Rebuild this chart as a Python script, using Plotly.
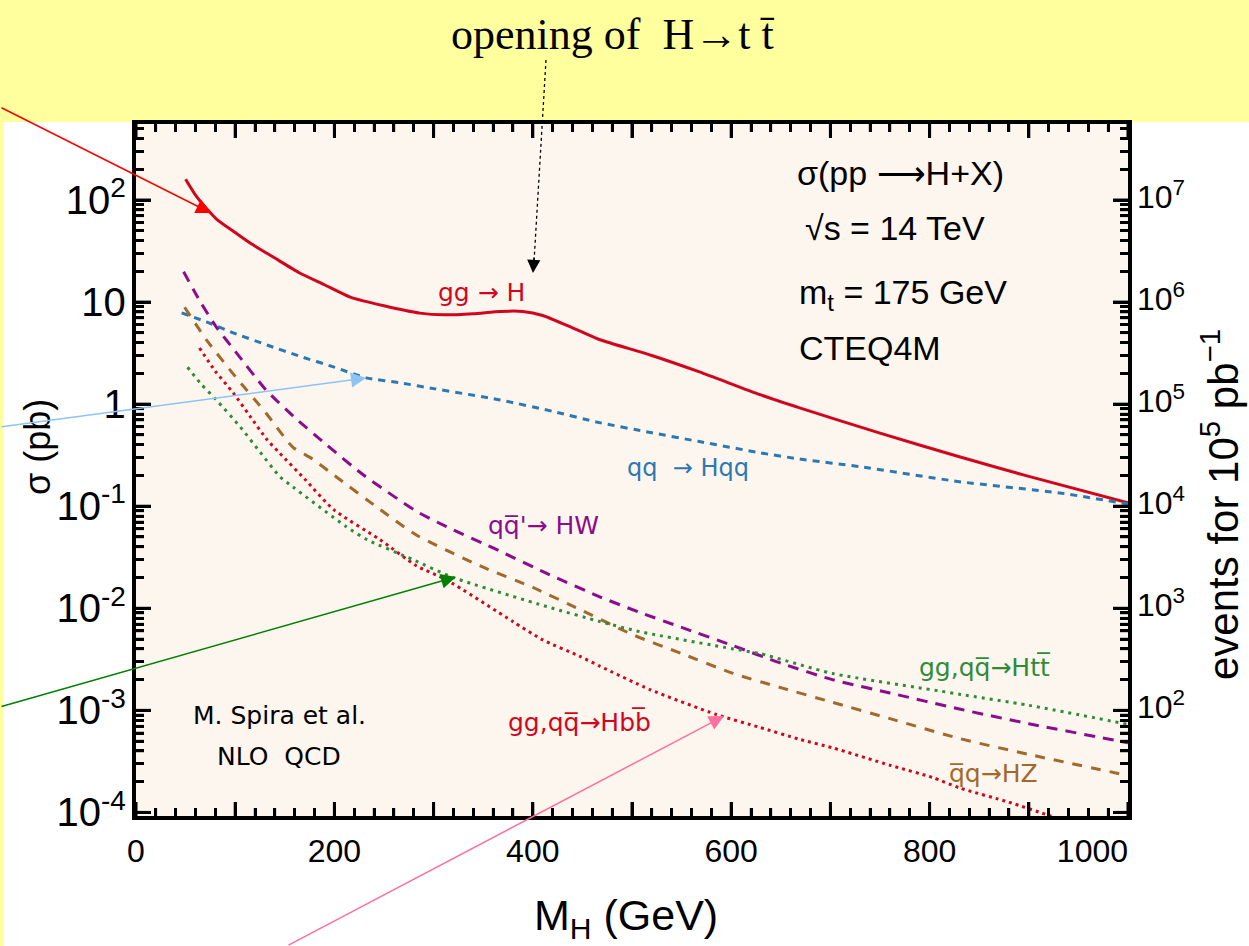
import math
import plotly.graph_objects as go

# ---------------- data ----------------
MH_GGH = [50, 60, 75, 82, 100, 115, 140, 165, 190, 216, 250, 286, 310, 340, 367, 390, 410, 440, 467, 520, 568, 629, 669, 750, 830, 900, 1000]
SIG_GGH = [160, 112, 75, 64, 48, 38, 27, 19.3, 14.8, 11.2, 9.2, 7.8, 7.5, 7.7, 8.1, 8.1, 7.4, 5.6, 4.3, 3.0, 2.07, 1.24, 0.92, 0.52, 0.305, 0.196, 0.108]

MH_HQQ = [46, 71, 98, 132, 165, 199, 232, 266, 300, 367, 420, 467, 520, 568, 629, 669, 729, 830, 931, 1000]
SIG_HQQ = [7.85, 6.4, 5.0, 3.8, 2.95, 2.32, 1.81, 1.62, 1.42, 1.10, 0.85, 0.66, 0.525, 0.43, 0.334, 0.29, 0.245, 0.174, 0.135, 0.105]

MH_HW = [48, 65, 81, 100, 131, 160, 192, 230, 283, 313, 360, 414, 468, 508, 550, 602, 650, 702, 760, 830, 900, 991, 1000]
SIG_HW = [19.8, 10.0, 5.7, 3.3, 1.38, 0.74, 0.40, 0.20, 0.089, 0.063, 0.039, 0.022, 0.0129, 0.0091, 0.0065, 0.0043, 0.0029, 0.0020, 0.00148, 0.00103, 0.00074, 0.00050, 0.00048]

MH_HZ = [49, 71, 100, 131, 158, 178, 200, 246, 283, 347, 400, 447, 501, 550, 602, 650, 702, 760, 830, 900, 1000]
SIG_HZ = [8.9, 4.27, 1.87, 0.82, 0.38, 0.29, 0.20, 0.093, 0.052, 0.026, 0.016, 0.0098, 0.0055, 0.0036, 0.0023, 0.00167, 0.0012, 0.00083, 0.00053, 0.00037, 0.00023]

MH_HBB = [64, 80, 98, 115, 132, 145, 170, 199, 246, 283, 313, 380, 410, 447, 468, 518, 585, 629, 669, 702, 760, 803, 830, 880, 921, 950]
SIG_HBB = [3.55, 2.1, 1.29, 0.76, 0.45, 0.33, 0.185, 0.093, 0.047, 0.026, 0.019, 0.0074, 0.0049, 0.0034, 0.0027, 0.0016, 0.00091, 0.00068, 0.00052, 0.00043, 0.00029, 0.00022, 0.000174, 0.000126, 0.000093, 0.000076]

MH_HTT = [52, 65, 81, 105, 125, 145, 158, 212, 233, 279, 320, 414, 468, 508, 602, 629, 702, 810, 830, 900, 1000]
SIG_HTT = [2.3, 1.6, 1.1, 0.6, 0.34, 0.195, 0.155, 0.063, 0.047, 0.030, 0.020, 0.0104, 0.0074, 0.0059, 0.0040, 0.0036, 0.0023, 0.00155, 0.00144, 0.00112, 0.00073]

# tick labels: default label -> label shown in the reference
X_TICK_VALS = [100, 300, 500, 700, 900, 1000]
X_TICK_TEXT = ["", "", "", "", "", "1000" + "\u00a0" * 8]
Y_TICK_DEFAULT = ["10<sup>\u22124</sup>", "10<sup>\u22123</sup>", "10<sup>\u22122</sup>", "10<sup>\u22121</sup>"]
Y_TICK_TEXT = ["10<sup>-4</sup>", "10<sup>-3</sup>", "10<sup>-2</sup>", "10<sup>-1</sup>"]
# right-hand scale: events for an integrated luminosity of 1e5 pb^-1
LUMI = 1e5
EVENT_TICK_VALS = [1e2, 1e3, 1e4, 1e5, 1e6, 1e7]
EVENT_TICK_TEXT = ["10<sup>2</sup>", "10<sup>3</sup>", "10<sup>4</sup>", "10<sup>5</sup>", "10<sup>6</sup>", "10<sup>7</sup>"]

# ---------------- styling ----------------
W, H = 1249, 946
L, R, T, B = 136, 1128, 124, 816
X_RANGE = [0, 1000]
Y_RANGE = [-4.035, 2.745]  # log10(pb)
RED = "#D0061F"
BLUE = "#2C78B2"
PURPLE = "#8B0D8B"
BROWN = "#A3682C"
GREEN = "#2F8B38"
FONT = "Liberation Sans"
LFONT = "DejaVu Sans"


def px(x):
    return (x - L) / (R - L)


def py(y):
    return (B - y) / (B - T)


fig = go.Figure()


def add_curve(xs, ys, color, dash):
    fig.add_trace(go.Scatter(x=xs, y=ys, mode="lines",
                             line=dict(color=color, width=3, dash=dash, shape="spline", smoothing=0.6),
                             hoverinfo="skip", showlegend=False))


add_curve(MH_GGH, SIG_GGH, RED, "solid")
add_curve(MH_HQQ, SIG_HQQ, BLUE, "7px,6px")
add_curve(MH_HW, SIG_HW, PURPLE, "11px,8px")
add_curve(MH_HZ, SIG_HZ, BROWN, "10px,9px")
add_curve(MH_HBB, SIG_HBB, RED, "3px,4px")
add_curve(MH_HTT, SIG_HTT, GREEN, "3px,5px")

# ---------- inside tick marks on all four sides, drawn as line traces on the axes ----------
X_SPAN = X_RANGE[1] - X_RANGE[0]
Y_SPAN = Y_RANGE[1] - Y_RANGE[0]


def x_len(pix):
    return pix / (R - L) * X_SPAN


def y_up(pix):       # log10 value pix pixels above the bottom edge
    return Y_RANGE[0] + pix / (B - T) * Y_SPAN


def y_down(pix):     # log10 value pix pixels below the top edge
    return Y_RANGE[1] - pix / (B - T) * Y_SPAN


def tick_trace(xs, ys, width):
    fig.add_trace(go.Scatter(x=xs, y=ys, mode="lines", line=dict(color="black", width=width),
                             hoverinfo="skip", showlegend=False, connectgaps=False))


for major in (True, False):
    xs, ys = [], []
    # x ticks (bottom and top)
    for v in range(X_RANGE[0], X_RANGE[1] + 1, 20):
        if (v % 100 == 0) != major:
            continue
        ln = 14 if major else 8
        xs += [v, v, None, v, v, None]
        ys += [10 ** Y_RANGE[0], 10 ** y_up(ln), None, 10 ** Y_RANGE[1], 10 ** y_down(ln), None]
    # y ticks (left and right)
    for e in range(-5, 3):
        for k in range(1, 10):
            if (k == 1) != major:
                continue
            lv = math.log10(k) + e
            if not (Y_RANGE[0] <= lv <= Y_RANGE[1]):
                continue
            ln = 15 if major else 8
            yv = 10 ** lv
            xs += [X_RANGE[0], X_RANGE[0] + x_len(ln), None, X_RANGE[1], X_RANGE[1] - x_len(ln), None]
            ys += [yv, yv, None, yv, yv, None]
    tick_trace(xs, ys, 3 if major else 2.5)

# right-hand "events" scale labels, placed through the sigma axis (events = sigma * LUMI)
fig.add_trace(go.Scatter(x=[X_RANGE[1]] * len(EVENT_TICK_VALS), y=[v / LUMI for v in EVENT_TICK_VALS],
                         mode="text", text=["\u00a0" + t for t in EVENT_TICK_TEXT], textposition="middle right",
                         textfont=dict(size=32, family=FONT, color="black"),
                         cliponaxis=False, hoverinfo="skip", showlegend=False))

tick_common = dict(ticks="inside", tickcolor="black", showline=True, linewidth=3.5, linecolor="black",
                   showgrid=False, zeroline=False, tickfont=dict(size=32, family=FONT), mirror="ticks")

fig.update_layout(
    width=W, height=H, autosize=False,
    margin=dict(l=L, r=W - R, t=T, b=H - B, pad=0),
    paper_bgcolor="white",
    plot_bgcolor="#FDF6EE",
    font=dict(family=FONT, color="black"),
    xaxis=dict(range=X_RANGE, tickmode="linear", tick0=0, dtick=100,
               labelalias={str(v): t for v, t in zip(X_TICK_VALS, X_TICK_TEXT)},
               ticklen=14, tickwidth=2.5,
               minor=dict(dtick=20, tick0=0, ticks="inside", ticklen=8, tickwidth=2.5, tickcolor="black"),
               ticklabelstandoff=4, **tick_common),
    yaxis=dict(type="log", range=Y_RANGE, tickmode="linear", tick0=0, dtick=1,
               exponentformat="power", labelalias=dict(zip(Y_TICK_DEFAULT, Y_TICK_TEXT)),
               ticklen=15, tickwidth=3,
               minor=dict(dtick="D1", ticks="inside", ticklen=8, tickwidth=2.5, tickcolor="black"),
               **tick_common),
    showlegend=False,
)

shapes = []
# slide background pieces (yellow band + left strip)
YELLOW = "#FFFF9E"
shapes.append(dict(type="rect", xref="paper", yref="paper", layer="below",
                   x0=px(0), x1=px(W), y0=py(122), y1=py(0), line=dict(width=0), fillcolor=YELLOW))
shapes.append(dict(type="rect", xref="paper", yref="paper", layer="below",
                   x0=px(0), x1=px(3), y0=py(H), y1=py(122), line=dict(width=0), fillcolor=YELLOW))
# dotted pointer from top title
shapes.append(dict(type="line", xref="paper", yref="paper", x0=px(546), y0=py(60), x1=px(534), y1=py(262),
                   line=dict(color="black", width=1.3, dash="dot")))
fig.update_layout(shapes=shapes)

ann = []


def text(x, y, s, size, color="black", xanchor="center", family=FONT, angle=0):
    ann.append(dict(x=px(x), y=py(y), xref="paper", yref="paper", text=s, showarrow=False,
                    xanchor=xanchor, yanchor="middle", textangle=angle,
                    font=dict(size=size, color=color, family=family)))


def arrow(tx, ty, hx, hy, color, width=1.5, size=2.0):
    ann.append(dict(x=px(hx), y=py(hy), xref="paper", yref="paper", text="", showarrow=True,
                    ax=tx - hx, ay=ty - hy, axref="pixel", ayref="pixel",
                    arrowhead=2, arrowsize=size, arrowwidth=width, arrowcolor=color, standoff=0))


text(612, 34, "opening of  H\u2192t t\u0304", 44, family="Liberation Serif")
text(481, 292, "gg \u2192 H", 25, RED, family=LFONT)
text(688, 468, "qq  \u2192 Hqq", 24, BLUE, family=LFONT)
text(543, 525, "qq\u0305'\u2192 HW", 25, PURPLE, family=LFONT)
text(985, 667, "gg,qq\u0305\u2192Htt\u0305", 25, GREEN, family=LFONT)
text(579, 722, "gg,qq\u0305\u2192Hbb\u0305", 25, RED, family=LFONT)
text(993, 773, "q\u0305q\u2192HZ", 25, BROWN, family=LFONT)
text(279, 715, "M. Spira et al.", 25, family=LFONT)
text(279, 756, "NLO  QCD", 25, family=LFONT)
text(795, 173, "\u03c3(pp \u27f6H+X)", 34, xanchor="left")
text(803, 228, "\u221as = 14 TeV", 34, xanchor="left")
text(797, 294, "m<sub>t</sub> = 175 GeV", 34, xanchor="left")
text(797, 348, "CTEQ4M", 34, xanchor="left")

text(37, 447, "\u03c3 (pb)", 36, angle=-90)
text(626, 918, "M<sub>H</sub> (GeV)", 43)
text(1220, 505, "events for 10<sup>5</sup> pb<sup>\u22121</sup>", 42, angle=-90)

arrow(0, 107, 211, 213, "#FF0000")
arrow(0, 427, 366, 378, "#8CC4F5")
arrow(0, 707, 456, 577, "#008000")
arrow(287, 946, 724, 716, "#FF6F9F")
arrow(534, 256, 533, 273, "black", width=1.2, size=2.2)

fig.update_layout(annotations=ann)

fig.write_html("out.html")
